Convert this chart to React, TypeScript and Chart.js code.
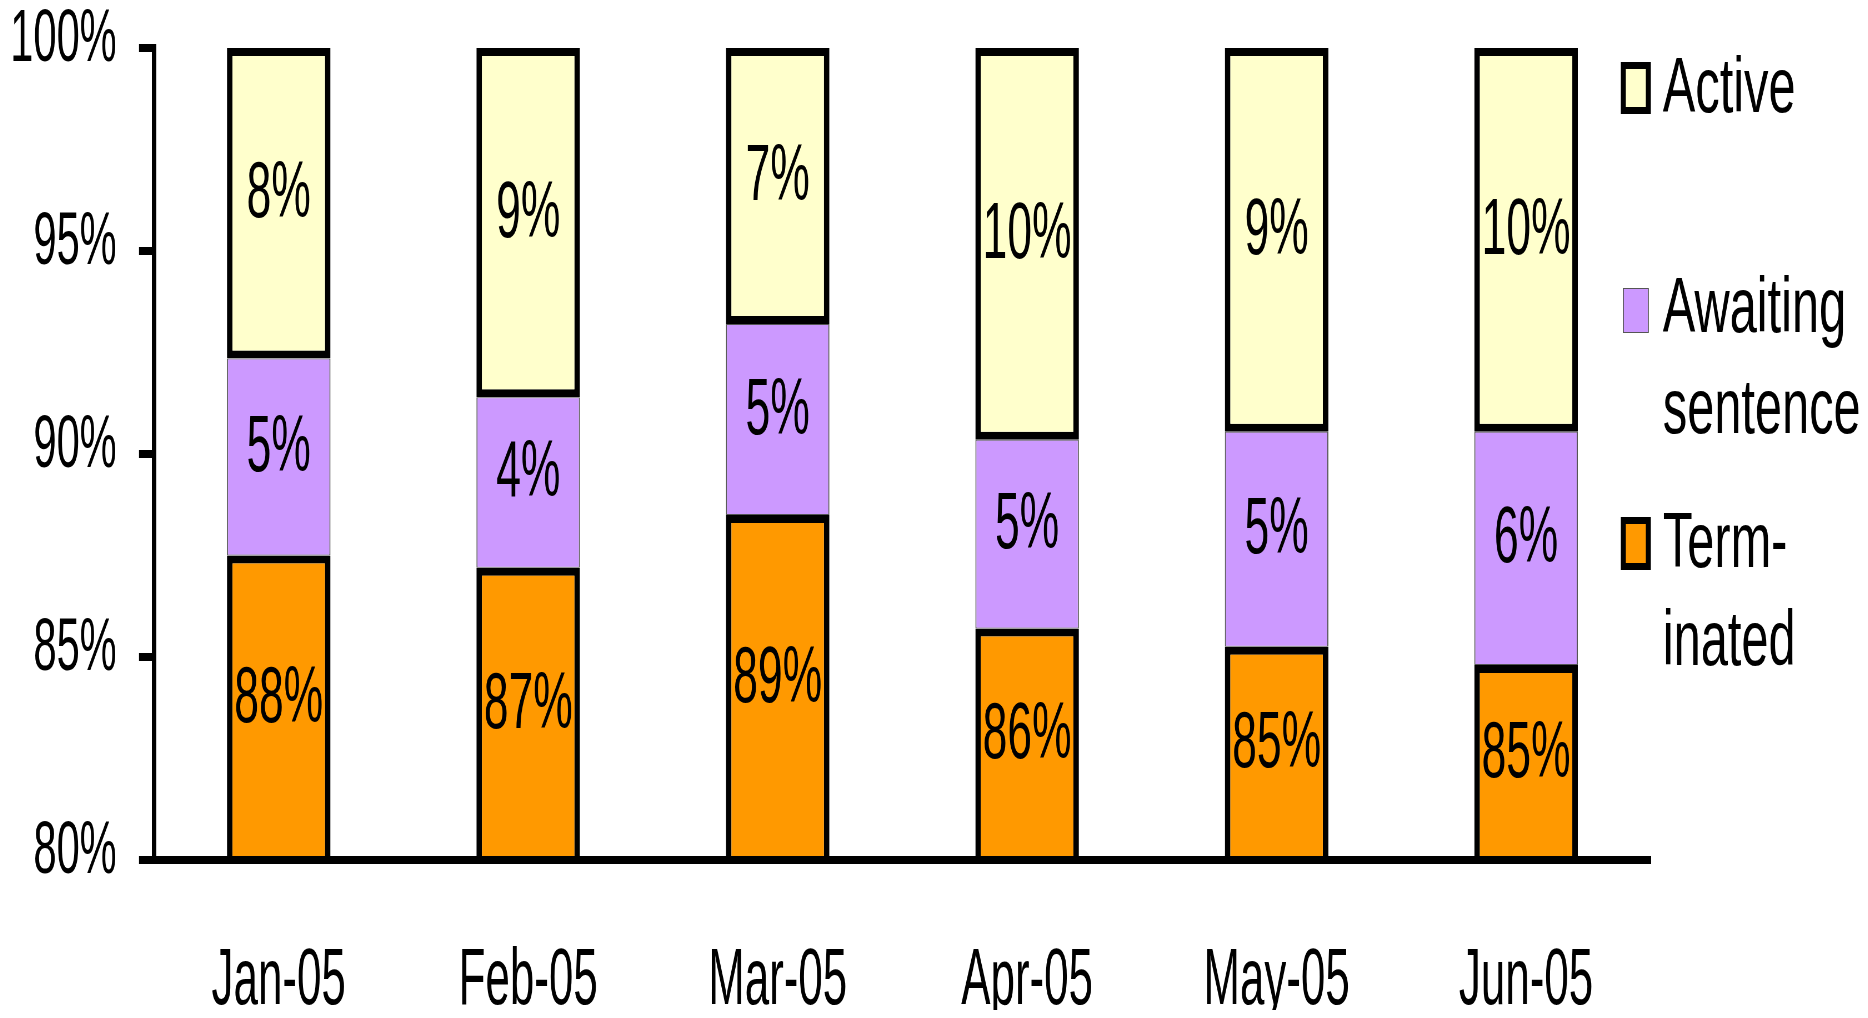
import React, { useEffect, useRef } from 'react';
import { Chart, registerables } from 'chart.js';

Chart.register(...registerables);

// ---------- data ----------
const categories = ['Jan-05', 'Feb-05', 'Mar-05', 'Apr-05', 'May-05', 'Jun-05'];
const terminated = [87.5, 87.2, 88.5, 85.7, 85.25, 84.8];
const awaiting = [4.85, 4.2, 4.7, 4.65, 5.3, 5.75];
const active = [7.65, 8.6, 6.8, 9.65, 9.45, 9.45];
const terminatedLabels = ['88%', '87%', '89%', '86%', '85%', '85%'];
const awaitingLabels = ['5%', '4%', '5%', '5%', '5%', '6%'];
const activeLabels = ['8%', '9%', '7%', '10%', '9%', '10%'];
const legendTexts = [['Active'], ['Awaiting', 'sentence'], ['Term-', 'inated']];
const yMin = 80;
const yMax = 100;
const yStep = 5;

// ---------- layout / style ----------
const K = 1.8; // horizontal condensation of the picture
const REAL_W = 1852;
const H = 1002;
const VW = Math.round(REAL_W * K);
const FONT = "'Liberation Sans', Arial, sans-serif";
const AREA = { left: 146, right: 1643, top: 40, bottom: 852 };
const COLORS = { active: '#FFFFCC', awaiting: '#CC99FF', terminated: '#FF9900' };
const THICK = { top: 8, bottom: 8, left: 10, right: 10 };
const THIN = { top: 1, bottom: 1, left: 2, right: 2 };
const LABEL_DY = -8;

const labelSets = [terminatedLabels, awaitingLabels, activeLabels];

const dataLabelPlugin = {
  id: 'valueLabels',
  afterDatasetsDraw(chart: any) {
    const ctx = chart.ctx;
    const area = chart.chartArea;
    ctx.save();
    ctx.font = `80px ${FONT}`;
    ctx.fillStyle = '#000';
    ctx.textAlign = 'center';
    ctx.textBaseline = 'middle';
    chart.data.datasets.forEach((_ds: any, di: number) => {
      const meta = chart.getDatasetMeta(di);
      meta.data.forEach((el: any, i: number) => {
        const { x, y, base } = el.getProps(['x', 'y', 'base'], true);
        const top = Math.max(Math.min(y, base), area.top);
        const bottom = Math.min(Math.max(y, base), area.bottom);
        ctx.fillText(labelSets[di][i], x, (top + bottom) / 2 + LABEL_DY);
      });
    });
    ctx.restore();
  },
};

const legendLayout = [
  { box: [1613, 54, 1643, 106], fill: COLORS.active, border: '#000', bw: [5, 7], baselines: [104] },
  { box: [1615, 280, 1641, 325], fill: COLORS.awaiting, border: '#555', bw: [1, 1], baselines: [324, 425] },
  { box: [1613, 509, 1643, 562], fill: COLORS.terminated, border: '#000', bw: [5, 7], baselines: [559, 657] },
];
const LEGEND_TEXT_X = 1655;
const LEGEND_FONT = 78;
const LEGEND_SX = K / 1.6;

const legendPlugin = {
  id: 'customLegend',
  afterDraw(chart: any) {
    const ctx = chart.ctx;
    ctx.save();
    legendLayout.forEach((item, idx) => {
      const [x0, y0, x1, y1] = item.box;
      const [bx, by] = item.bw;
      ctx.fillStyle = item.border;
      ctx.fillRect(x0 * K, y0, (x1 - x0) * K, y1 - y0);
      ctx.fillStyle = item.fill;
      ctx.fillRect((x0 + bx) * K, y0 + by, (x1 - x0 - 2 * bx) * K, y1 - y0 - 2 * by);
      ctx.fillStyle = '#000';
      ctx.font = `${LEGEND_FONT}px ${FONT}`;
      ctx.textAlign = 'left';
      ctx.textBaseline = 'alphabetic';
      legendTexts[idx].forEach((line, li) => {
        ctx.save();
        ctx.translate(LEGEND_TEXT_X * K, item.baselines[li]);
        ctx.scale(LEGEND_SX, 1);
        ctx.fillText(line, 0, 0);
        ctx.restore();
      });
    });
    ctx.restore();
  },
};

const clipBottom = { left: false, right: false, top: false, bottom: 0 };

const zeroPadding = (scale: any) => {
  scale.paddingTop = 0;
  scale.paddingBottom = 0;
  scale.paddingLeft = 0;
  scale.paddingRight = 0;
};

export default function App() {
  const ref = useRef<HTMLCanvasElement>(null);
  useEffect(() => {
    const chart = new Chart(ref.current as HTMLCanvasElement, {
      type: 'bar',
      data: {
        labels: categories,
        datasets: [
          {
            label: 'Terminated',
            data: terminated,
            backgroundColor: COLORS.terminated,
            borderColor: '#000',
            borderWidth: THICK,
            borderSkipped: false,
            clip: clipBottom,
          },
          {
            label: 'Awaiting sentence',
            data: awaiting,
            backgroundColor: COLORS.awaiting,
            borderColor: '#555',
            borderWidth: THIN,
            borderSkipped: false,
            clip: clipBottom,
          },
          {
            label: 'Active',
            data: active,
            backgroundColor: COLORS.active,
            borderColor: '#000',
            borderWidth: THICK,
            borderSkipped: false,
            clip: clipBottom,
          },
        ] as any,
      },
      options: {
        responsive: false,
        animation: false,
        events: [],
        layout: {
          padding: { left: 0, right: VW - AREA.right * K, top: AREA.top, bottom: 0 },
        },
        datasets: {
          bar: { categoryPercentage: 1, barPercentage: 0.415 },
        },
        plugins: {
          legend: { display: false },
          tooltip: { enabled: false },
          title: { display: false },
        },
        scales: {
          x: {
            stacked: true,
            grid: { display: false },
            border: { display: true, color: '#000', width: 8, z: 1 },
            ticks: {
              color: '#000',
              font: { family: FONT, size: 79, lineHeight: 1 },
              padding: 75,
              maxRotation: 0,
              autoSkip: false,
            },
            afterFit: (scale: any) => {
              scale.height = H - AREA.bottom;
              zeroPadding(scale);
            },
          },
          y: {
            stacked: true,
            min: yMin,
            max: yMax,
            grid: {
              display: true,
              drawOnChartArea: false,
              drawTicks: true,
              tickLength: 27,
              lineWidth: 8,
              color: '#000',
            },
            border: { display: true, color: '#000', width: 8 },
            ticks: {
              stepSize: yStep,
              color: '#000',
              font: { family: FONT, size: 75, lineHeight: 1 },
              padding: 40,
              labelOffset: -8,
              callback: (v: any) => `${v}%`,
            },
            afterFit: (scale: any) => {
              scale.width = AREA.left * K;
              zeroPadding(scale);
            },
          },
        },
      } as any,
      plugins: [dataLabelPlugin, legendPlugin],
    });
    return () => chart.destroy();
  }, []);

  return (
    <div style={{ width: REAL_W, height: H, overflow: 'hidden' }}>
      <canvas
        ref={ref}
        width={VW}
        height={H}
        style={{ width: `${REAL_W}px`, height: `${H}px`, display: 'block' }}
      />
    </div>
  );
}
